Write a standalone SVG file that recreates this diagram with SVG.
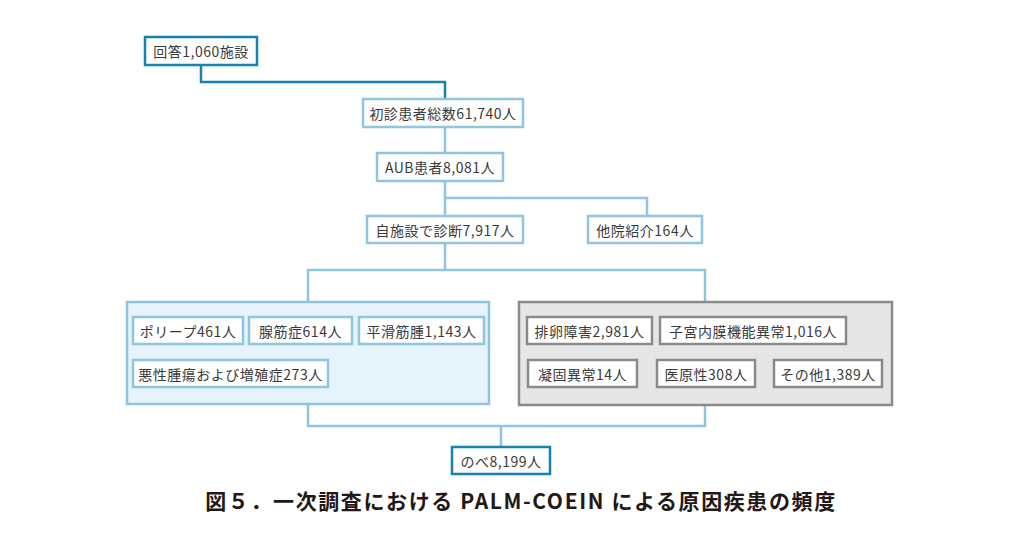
<svg xmlns="http://www.w3.org/2000/svg" width="1024" height="552" viewBox="0 0 1024 552">
<style>
.t{font-family:"Noto Sans CJK JP","Noto Sans",sans-serif;font-size:14px;letter-spacing:0.5px;fill:#3a3a3a;text-anchor:middle;dominant-baseline:central}
.lb{fill:#fff;stroke:#8ec6df;stroke-width:2.5}
.db{fill:#fff;stroke:#1583ad;stroke-width:2.5}
.gb{fill:#fff;stroke:#8a8a8a;stroke-width:2.5}
.ln{fill:none;stroke:#8ec6df;stroke-width:2.5}
.dl{fill:none;stroke:#1583ad;stroke-width:2.5}
.cap{font-family:"Noto Sans CJK JP","Noto Sans",sans-serif;font-size:21px;letter-spacing:1.6px;font-weight:bold;fill:#231815;text-anchor:middle}
</style>
<rect width="1024" height="552" fill="#fff"/>
<g id="connectors">
<path class="dl" d="M201 65 V82 H445 V99"/>
<path class="ln" d="M445 127 V153"/>
<path class="ln" d="M445 181 V216"/>
<path class="ln" d="M445 198 H647 V216"/>
<path class="ln" d="M445 243 V270"/>
<path class="ln" d="M308 302 V270 H705 V302"/>
<path class="ln" d="M308 404 V426 H705 V404"/>
<path class="ln" d="M501 426 V447"/>
</g>
<g id="n-kaito"><rect class="db" x="145" y="37" width="112" height="28"/><text class="t" x="201" y="51">回答1,060施設</text></g>
<g id="n-shoshin"><rect class="lb" x="363" y="99" width="160" height="28"/><text class="t" x="443" y="113">初診患者総数61,740人</text></g>
<g id="n-aub"><rect class="lb" x="377" y="153" width="126" height="28"/><text class="t" x="440" y="167">AUB患者8,081人</text></g>
<g id="n-jishisetsu"><rect class="lb" x="367" y="216" width="156" height="27"/><text class="t" x="445" y="229.5">自施設で診断7,917人</text></g>
<g id="n-tain"><rect class="lb" x="588" y="216" width="114" height="27"/><text class="t" x="645" y="229.5">他院紹介164人</text></g>
<g id="g-palm"><rect x="127" y="302" width="362" height="102" fill="#e6f3fa" stroke="#8ec6df" stroke-width="2.5"/>
<g id="n-polyp"><rect class="lb" x="133" y="317" width="110" height="27"/><text class="t" x="188" y="330.5">ポリープ461人</text></g>
<g id="n-senkin"><rect class="lb" x="249" y="317" width="103" height="27"/><text class="t" x="300.5" y="330.5">腺筋症614人</text></g>
<g id="n-heikatsu"><rect class="lb" x="359" y="317" width="125" height="27"/><text class="t" x="421.5" y="330.5">平滑筋腫1,143人</text></g>
<g id="n-akusei"><rect class="lb" x="133" y="360" width="195" height="27"/><text class="t" x="230.5" y="373.5">悪性腫瘍および増殖症273人</text></g>
</g>
<g id="g-coein"><rect x="519" y="302" width="373" height="103" fill="#e6e6e6" stroke="#8a8a8a" stroke-width="2.5"/>
<g id="n-hairan"><rect class="gb" x="527" y="317" width="125" height="27"/><text class="t" x="589.5" y="330.5">排卵障害2,981人</text></g>
<g id="n-shikyu"><rect class="gb" x="660" y="317" width="186" height="27"/><text class="t" x="753" y="330.5">子宮内膜機能異常1,016人</text></g>
<g id="n-gyoko"><rect class="gb" x="528" y="360" width="109" height="27"/><text class="t" x="582.5" y="373.5">凝固異常14人</text></g>
<g id="n-igen"><rect class="gb" x="657" y="360" width="98" height="27"/><text class="t" x="706" y="373.5">医原性308人</text></g>
<g id="n-sonota"><rect class="gb" x="774" y="360" width="108" height="27"/><text class="t" x="828" y="373.5">その他1,389人</text></g>
</g>
<g id="n-nobe"><rect class="db" x="452" y="447" width="98" height="27"/><text class="t" x="501" y="460.5">のべ8,199人</text></g>
<text class="cap" x="521" y="509">図５．一次調査における PALM-COEIN による原因疾患の頻度</text>
</svg>
